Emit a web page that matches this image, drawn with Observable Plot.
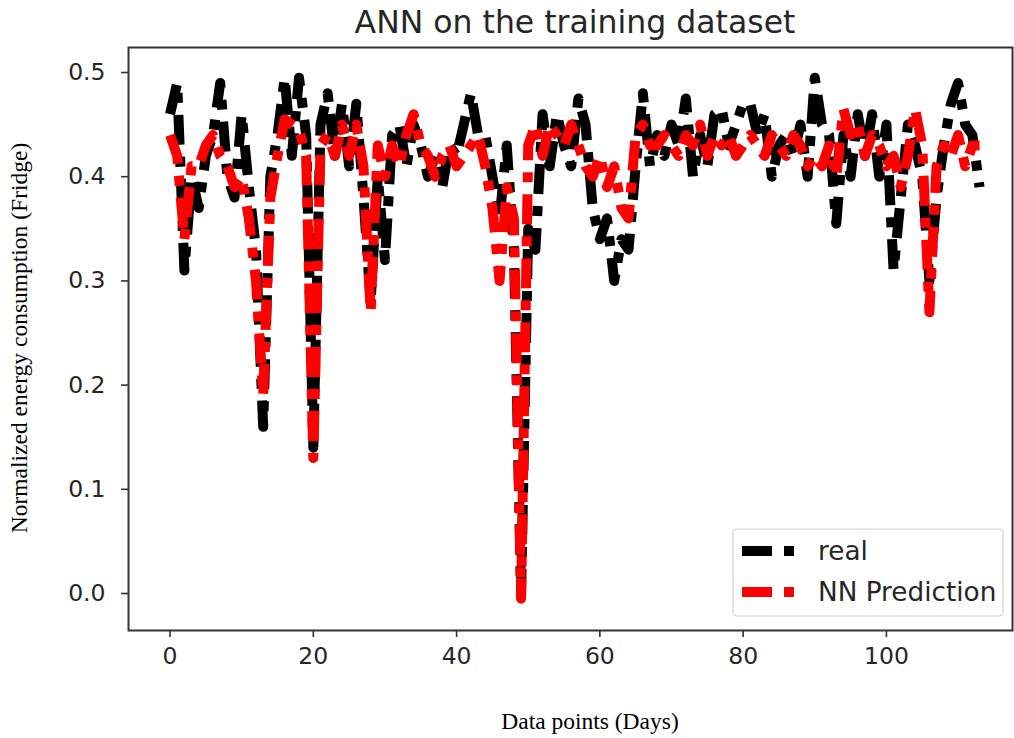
<!DOCTYPE html>
<html>
<head>
<meta charset="utf-8">
<script src="https://cdn.jsdelivr.net/npm/d3@7"></script>
<script src="https://cdn.jsdelivr.net/npm/@observablehq/plot@0.6"></script>
<style>
  html, body { margin: 0; padding: 0; background: #fff; }
</style>
</head>
<body>
<div id="chart"></div>
<script>
const titleText = "ANN on the training dataset";
const xLabel = "Data points (Days)";
const yLabel = "Normalized energy consumption (Fridge)";
const seriesNames = ["real", "NN Prediction"];
const seriesColors = ["#000000", "#ff0000"];
const xTicks = [0, 20, 40, 60, 80, 100];
const yTicks = [0.0, 0.1, 0.2, 0.3, 0.4, 0.5];

const realValues = [
  0.46, 0.49, 0.31, 0.40, 0.37, 0.42, 0.44, 0.49, 0.40, 0.38,
  0.46, 0.39, 0.33, 0.16, 0.40, 0.44, 0.495, 0.42, 0.495, 0.44,
  0.14, 0.45, 0.48, 0.42, 0.47, 0.41, 0.47, 0.38, 0.28, 0.40,
  0.32, 0.44, 0.45, 0.41, 0.45, 0.43, 0.40, 0.42, 0.39, 0.43,
  0.42, 0.45, 0.48, 0.44, 0.44, 0.40, 0.36, 0.43, 0.33, 0.00,
  0.35, 0.33, 0.46, 0.41, 0.46, 0.43, 0.41, 0.475, 0.45, 0.37,
  0.34, 0.36, 0.30, 0.34, 0.33, 0.41, 0.48, 0.41, 0.44, 0.42,
  0.45, 0.43, 0.475, 0.40, 0.44, 0.41, 0.46, 0.465, 0.43, 0.45,
  0.47, 0.47, 0.44, 0.46, 0.40, 0.43, 0.44, 0.42, 0.45, 0.40,
  0.495, 0.45, 0.44, 0.355, 0.44, 0.40, 0.46, 0.42, 0.46, 0.40,
  0.45, 0.31, 0.38, 0.45, 0.43, 0.40, 0.30, 0.38, 0.43, 0.47,
  0.49, 0.45, 0.44, 0.39
];
const predValues = [
  0.44, 0.42, 0.34, 0.41, 0.41, 0.43, 0.44, 0.42, 0.41, 0.39,
  0.40, 0.36, 0.30, 0.19, 0.38, 0.42, 0.455, 0.45, 0.445, 0.42,
  0.13, 0.43, 0.44, 0.42, 0.45, 0.42, 0.45, 0.41, 0.27, 0.43,
  0.40, 0.43, 0.41, 0.44, 0.46, 0.43, 0.42, 0.40, 0.42, 0.43,
  0.41, 0.42, 0.43, 0.44, 0.41, 0.37, 0.30, 0.39, 0.36, -0.005,
  0.43, 0.45, 0.42, 0.45, 0.44, 0.43, 0.45, 0.43, 0.41, 0.40,
  0.42, 0.39, 0.41, 0.37, 0.36, 0.44, 0.45, 0.43, 0.43, 0.44,
  0.43, 0.42, 0.44, 0.43, 0.45, 0.42, 0.44, 0.43, 0.44, 0.42,
  0.43, 0.44, 0.43, 0.42, 0.44, 0.43, 0.42, 0.44, 0.43, 0.41,
  0.42, 0.41, 0.43, 0.40, 0.465, 0.44, 0.45, 0.42, 0.44, 0.43,
  0.41, 0.42, 0.39, 0.42, 0.465, 0.43, 0.27, 0.41, 0.43, 0.42,
  0.44, 0.41, 0.43, 0.43
];

const realData = realValues.map((v, i) => ({x: i, y: v}));
const predData = predValues.map((v, i) => ({x: i, y: v}));

const W = 1014, H = 738;
const mL = 128, mR = 2, mT = 47, mB = 108;
const dash = "30,12,10,12";
const lineW = 10;
const tickFont = 23.5;

const chart = Plot.plot({
  width: W,
  height: H,
  marginLeft: mL,
  marginRight: mR,
  marginTop: mT,
  marginBottom: mB,
  style: {fontFamily: "DejaVu Sans", fontSize: tickFont + "px", color: "#262626", background: "#fff"},
  x: {domain: [-5.8, 117.6], label: null},
  y: {domain: [-0.0355, 0.524], label: null},
  marks: [
    Plot.line(realData, {x: "x", y: "y", stroke: seriesColors[0], strokeWidth: lineW, strokeDasharray: dash, strokeLinecap: "butt", strokeLinejoin: "round"}),
    Plot.line(predData, {x: "x", y: "y", stroke: seriesColors[1], strokeWidth: lineW, strokeDasharray: dash, strokeLinecap: "butt", strokeLinejoin: "round"}),
    Plot.frame({stroke: "#333", strokeWidth: 2}),
    Plot.axisX({ticks: xTicks, tickSize: 7, tickPadding: 10, fontSize: tickFont, label: null, stroke: "#333", strokeWidth: 1.6, tickFormat: d => String(d)}),
    Plot.axisY({ticks: yTicks, tickSize: 7, tickPadding: 16, fontSize: tickFont, label: null, tickFormat: d => d.toFixed(1), stroke: "#333", strokeWidth: 1.6})
  ]
});

const svg = d3.select(chart);
svg.append("text")
  .attr("x", 575).attr("y", 33)
  .attr("text-anchor", "middle")
  .attr("font-family", "DejaVu Sans").attr("font-size", 31.5).attr("fill", "#262626")
  .text(titleText);
svg.append("text")
  .attr("x", 590).attr("y", 729)
  .attr("text-anchor", "middle")
  .attr("font-family", "Liberation Serif").attr("font-size", 23.5).attr("fill", "#000")
  .text(xLabel);
svg.append("text")
  .attr("transform", "translate(27,338) rotate(-90)")
  .attr("text-anchor", "middle")
  .attr("font-family", "Liberation Serif").attr("font-size", 23.5).attr("fill", "#000")
  .text(yLabel);

// legend
const lg = svg.append("g");
lg.append("rect").attr("x", 733).attr("y", 529).attr("width", 270).attr("height", 87)
  .attr("rx", 4).attr("fill", "#fff").attr("fill-opacity", 0.85)
  .attr("stroke", "#d0d0d0").attr("stroke-width", 1.2);
seriesNames.forEach((name, k) => {
  const yy = 551 + k * 41;
  lg.append("line").attr("x1", 742).attr("x2", 797).attr("y1", yy).attr("y2", yy)
    .attr("stroke", seriesColors[k]).attr("stroke-width", lineW)
    .attr("stroke-dasharray", dash).attr("stroke-linecap", "butt");
  lg.append("text").attr("x", 818).attr("y", yy + 9)
    .attr("text-anchor", "start")
    .attr("font-family", "DejaVu Sans").attr("font-size", 26.3).attr("fill", "#262626")
    .text(name);
});

document.getElementById("chart").appendChild(chart);
</script>
</body>
</html>
